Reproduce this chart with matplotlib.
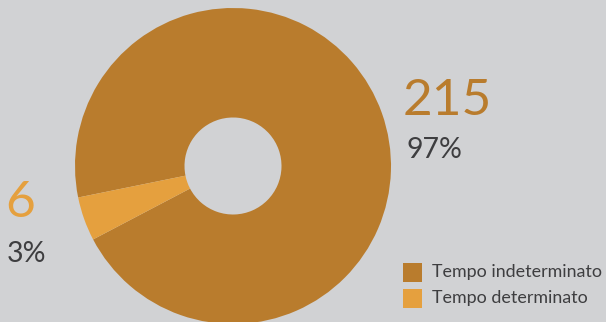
import matplotlib.pyplot as plt

# dati
labels = ["Tempo indeterminato", "Tempo determinato"]
counts = [215, 6]
percents = ["97%", "3%"]
# ampiezza degli spicchi (lo spicchio piccolo appare più largo del 3%)
slice_share = [95.5, 4.5]

colors = ["#b97c2d", "#e5a03e"]
bg = "#d1d2d4"
text_color = "#3e3e40"

plt.rcParams['font.family'] = ['Lato', 'DejaVu Sans']

fig = plt.figure(figsize=(6.06, 3.22), dpi=100, facecolor=bg)
ax = fig.add_axes([0, 0, 1, 1])
ax.set_facecolor(bg)

H = 322
cx, cy, r_out, r_in = 233, H - 166, 158, 48.5

ax.pie(slice_share, colors=colors, startangle=207.7, counterclock=True,
       center=(cx, cy), radius=r_out,
       wedgeprops=dict(width=r_out - r_in, linewidth=0))

ax.set_xlim(0, 606)
ax.set_ylim(0, H)
ax.set_aspect('auto')
ax.axis('off')

# etichette dei valori
ax.text(403, H - 115, str(counts[0]), fontsize=37, color=colors[0], va='baseline', ha='left')
ax.text(407, H - 158, percents[0], fontsize=20.5, color=text_color, va='baseline', ha='left')
ax.text(5, H - 217, str(counts[1]), fontsize=37, color=colors[1], va='baseline', ha='left')
ax.text(7, H - 262, percents[1], fontsize=20.5, color=text_color, va='baseline', ha='left')

# legenda
for i, lab in enumerate(labels):
    y_top = 263 + i * 26
    ax.add_patch(plt.Rectangle((403, H - y_top - 19), 19, 19, color=colors[i], linewidth=0))
    ax.text(432, H - y_top - 9.5, lab, fontsize=12.9, color=text_color, va='center',
            ha='left')

fig.savefig("out.png", dpi=100, facecolor=bg)
